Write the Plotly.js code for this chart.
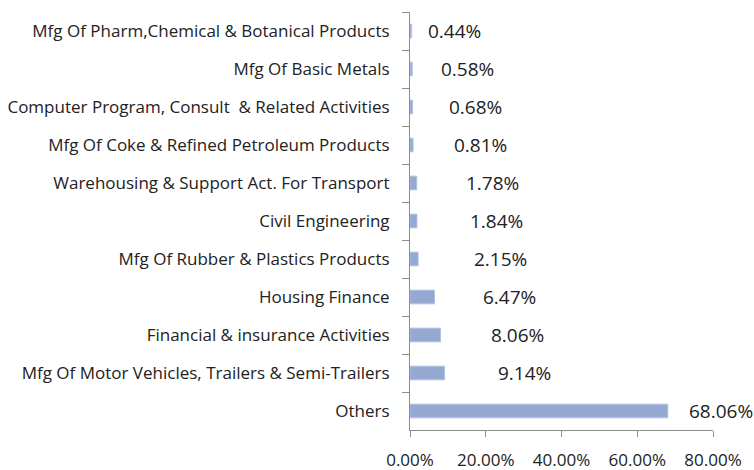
<!DOCTYPE html>
<html>
<head>
<meta charset="utf-8">
<script src="https://cdn.plot.ly/plotly-3.0.1.min.js"></script>
<style>html,body{margin:0;padding:0;background:#fff;}#chart{width:754px;height:470px;}</style>
</head>
<body>
<div id="chart"></div>
<script>
const categories = [
  "Mfg Of Pharm,Chemical & Botanical Products",
  "Mfg Of Basic Metals",
  "Computer Program, Consult  & Related Activities",
  "Mfg Of Coke & Refined Petroleum Products",
  "Warehousing & Support Act. For Transport",
  "Civil Engineering",
  "Mfg Of Rubber & Plastics Products",
  "Housing Finance",
  "Financial & insurance Activities",
  "Mfg Of Motor Vehicles, Trailers & Semi-Trailers",
  "Others"
];
const shares = [0.44, 0.58, 0.68, 0.81, 1.78, 1.84, 2.15, 6.47, 8.06, 9.14, 68.06];
const xTickValues = [0, 20, 40, 60, 80];
const xTickLabels = ["0.00%", "20.00%", "40.00%", "60.00%", "80.00%"];
// label horizontal offsets (px) as placed in the original
const labelShift = [43, 55, 63, 67, 76, 80, 82, 75, 77, 80, 53];

const FONT = "'Open Sans', sans-serif";

const trace = {
  type: "bar",
  orientation: "h",
  y: categories,
  x: shares,
  width: 0.36,
  marker: {color: "#94a8d2", line: {color: "#b4c3e3", width: 1}},
  hoverinfo: "x+y"
};

const annotations = categories.map((c, i) => ({
  x: shares[i], y: c, xref: "x", yref: "y",
  text: shares[i].toFixed(2) + "%",
  showarrow: false, xanchor: "center", yanchor: "middle",
  xshift: labelShift[i],
  font: {family: FONT, size: 19, color: "#222"}
}));

const layout = {
  width: 754, height: 470,
  margin: {l: 410, r: 41, t: 12, b: 40},
  paper_bgcolor: "#fff", plot_bgcolor: "#fff",
  showlegend: false,
  font: {family: FONT, color: "#222"},
  xaxis: {
    range: [0, 80], tickvals: xTickValues, ticktext: xTickLabels,
    showgrid: false, zeroline: false, showline: true, linecolor: "#8c8c8c", linewidth: 1,
    ticks: "outside", ticklen: 6, tickcolor: "#8c8c8c",
    ticklabelstandoff: 9,
    tickfont: {family: FONT, size: 17, color: "#222"}, fixedrange: true
  },
  yaxis: {
    autorange: "reversed", type: "category",
    showgrid: false, zeroline: false, showline: true, linecolor: "#8c8c8c", linewidth: 1,
    ticks: "outside", ticklen: 7, tickcolor: "#8c8c8c", tickson: "boundaries",
    ticklabelstandoff: 16,
    tickfont: {family: FONT, size: 17, color: "#222"}, fixedrange: true
  },
  annotations: annotations
};

Plotly.newPlot("chart", [trace], layout, {displayModeBar: false, staticPlot: true});
</script>
</body>
</html>
